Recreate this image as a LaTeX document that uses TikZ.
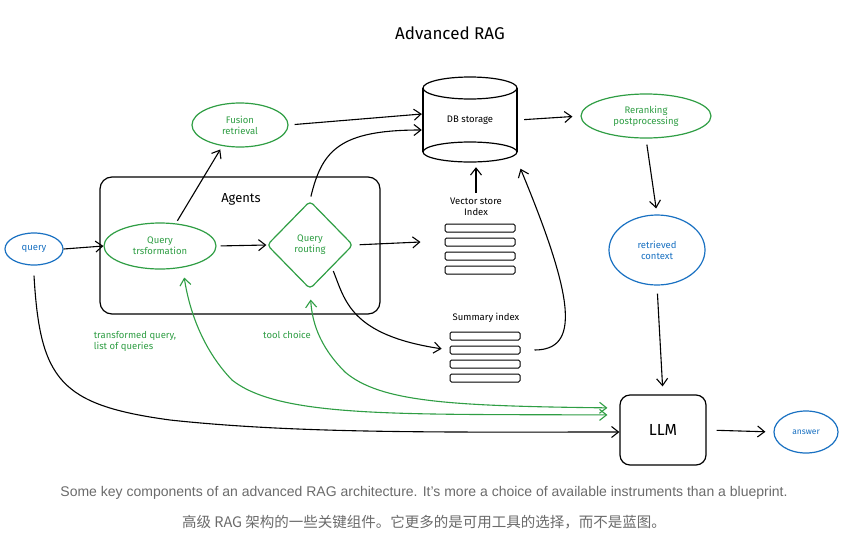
\documentclass[tikz,border=0pt]{standalone}
\usepackage{fontspec}
\setmainfont{Fira Sans}
\newfontfamily\capfont{Liberation Sans}
\newfontfamily\cjk{Noto Sans CJK SC}
\usetikzlibrary{arrows.meta,shapes.geometric,positioning}
\definecolor{egreen}{HTML}{2F9E44}
\definecolor{eblue}{HTML}{1971C2}
\definecolor{capgray}{HTML}{6B6B6B}
\tikzset{
  lbl/.style={font=\fontsize{9.5}{11}\selectfont, align=center},
  gnode/.style={draw=egreen, text=egreen, line width=1.2pt, lbl},
  bnode/.style={draw=eblue, text=eblue, line width=1.2pt, lbl},
  arr/.style={line width=1.1pt, -{Straight Barb[length=7pt,width=11pt]}},
  garr/.style={draw=egreen, line width=1.1pt, {Straight Barb[length=7pt,width=11pt]}-{Straight Barb[length=7pt,width=11pt]}},
  bar/.style={draw, line width=1pt, rounded corners=1.5pt, minimum width=70pt, minimum height=8pt, inner sep=0pt},
}
\begin{document}
\begin{tikzpicture}[x=1pt,y=-1pt]
\useasboundingbox (0,0) rectangle (848,533);
\fill[white] (0,0) rectangle (848,533);

\node (title) at (450,33) {\fontsize{17}{18}\selectfont Advanced RAG};

% agents box
\node[draw, line width=1.2pt, rounded corners=12pt, minimum width=280pt, minimum height=137pt, inner sep=0pt] (agents) at (240,245.5) {};
\node[font=\fontsize{13}{14}\selectfont] (agl) at (241,199) {Agents};

\node[bnode, ellipse, minimum width=58pt, minimum height=32pt, inner sep=0pt] (query) at (34,249) {query};
\node[gnode, ellipse, minimum width=112pt, minimum height=46pt, inner sep=0pt] (qt) at (160,246) {Query\\trsformation};
\node[gnode, diamond, rounded corners=4pt, minimum width=86pt, minimum height=88pt, inner sep=0pt] (qr) at (310,245) {Query\\routing};
\node[gnode, ellipse, minimum width=96pt, minimum height=44pt, inner sep=0pt] (fus) at (240,125) {Fusion\\retrieval};

% DB storage cylinder
\node[minimum width=96pt, minimum height=86pt, inner sep=0pt, lbl] (db) at (470,120) {DB storage};
\draw[line width=1.2pt] (470,88) ellipse [x radius=47pt, y radius=11pt];
\draw[line width=1.2pt] (470,152) ellipse [x radius=47pt, y radius=10pt];
\draw[line width=1.2pt] (423,88) -- (423,152) (517,88) -- (517,152);

\node[gnode, ellipse, minimum width=130pt, minimum height=44pt, inner sep=0pt] (rr) at (646,116) {Reranking\\postprocessing};
\node[bnode, ellipse, minimum width=96pt, minimum height=70pt, inner sep=0pt] (rc) at (657,250) {retrieved\\context};
\node[draw, line width=1.2pt, rounded corners=10pt, minimum width=86pt, minimum height=70pt, font=\fontsize{16}{17}\selectfont] (llm) at (663,430) {LLM};
\node[bnode, ellipse, minimum width=64pt, minimum height=42pt, inner sep=0pt, font=\fontsize{8.5}{9}\selectfont] (ans) at (806,432) {answer};

% vector store index
\node[lbl] (vsl) at (476,207) {Vector store\\Index};
\node[bar] (vs1) at (480,228) {};
\node[bar] (vs2) at (480,242) {};
\node[bar] (vs3) at (480,256) {};
\node[bar] (vs4) at (480,270) {};

% summary index
\node[lbl] (sml) at (486,318) {Summary index};
\node[bar] (sm1) at (485,336) {};
\node[bar] (sm2) at (485,350) {};
\node[bar] (sm3) at (485,364) {};
\node[bar] (sm4) at (485,378) {};

% green labels
\node[text=egreen, lbl, align=left] (tql) at (135,341) {transformed query,\\list of queries};
\node[text=egreen, lbl] (tcl) at (287,335) {tool choice};

% connectors
\draw[arr] (query.east) -- (qt.west);
\draw[arr, shorten <=4pt] (qt.east) -- (qr.west);
\draw[arr, shorten <=6pt] (qr.east) -- ([xshift=-24pt]vs2.west);
\draw[arr, shorten <=3pt, shorten >=4pt] (qt.55) -- (fus.230);
\draw[arr, shorten <=6pt] (fus.east) -- ([yshift=6pt]db.west);
\draw[arr, shorten <=4pt] (qr.north) .. controls (322,150) and (340,130) .. ([yshift=-10pt]db.west);
\draw[arr, shorten <=6pt, shorten >=8pt] (db.east) -- (rr.west);
\draw[arr, shorten <=6pt, shorten >=6pt] (rr.south) -- (rc.north);
\draw[arr, shorten <=8pt, shorten >=8pt] (rc.south) -- (llm.north);
\draw[arr, shorten <=10pt, shorten >=8pt] (llm.east) -- (ans.west);
\draw[arr, shorten <=2pt, shorten >=4pt] (vsl.north) -- (vsl.north |- db.south);
\draw[arr, shorten <=4pt, shorten >=8pt] (qr.south east) .. controls (345,300) and (350,335) .. (sm2.west);
\draw[arr, shorten <=14pt, shorten >=6pt] (sm2.east) .. controls (580,350) and (575,300) .. (db.south east);
\draw[arr] ([yshift=-10pt]query.south) .. controls (40,380) and (60,405) .. (170,420) .. controls (300,434) and (450,432) .. ([yshift=-2pt]llm.west);

\draw[garr, shorten <=12pt, shorten >=10pt] ([yshift=22pt]llm.west) .. controls (450,406) and (380,402) .. (345,372) .. controls (318,345) and (312,320) .. (qr.south);
\draw[garr, shorten <=12pt, shorten >=8pt] ([yshift=15pt]llm.west) .. controls (400,414) and (280,418) .. (232,380) .. controls (205,352) and (190,315) .. ([xshift=23pt]qt.south);

% caption
\node[text=capgray, font=\capfont\fontsize{14}{15}\selectfont] (cap1) at (424,493) {Some key components of an advanced RAG architecture. It’s more a choice of available instruments than a blueprint.};
\node[text=capgray, font=\cjk\fontsize{14.5}{16}\selectfont] (cap2) at (424,522) {高级 RAG 架构的一些关键组件。它更多的是可用工具的选择，而不是蓝图。};
\end{tikzpicture}
\end{document}
